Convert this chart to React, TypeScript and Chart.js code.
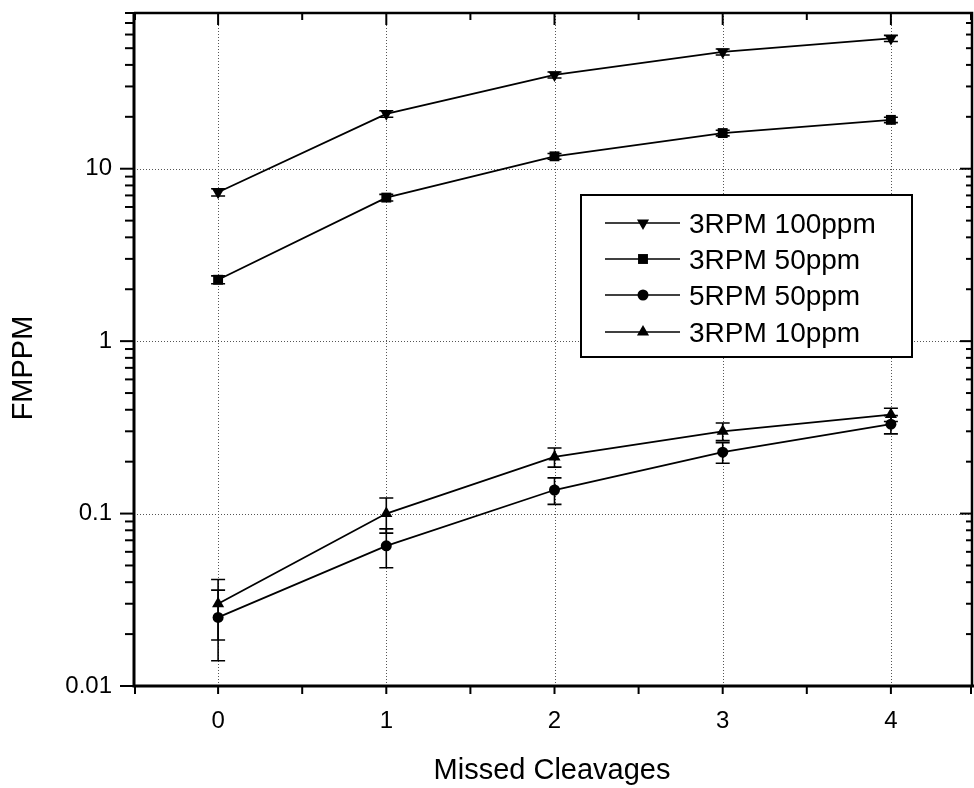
import React, { useEffect, useRef } from 'react';
import { Chart, registerables } from 'chart.js';

Chart.register(...registerables);

// ---- data ----
const CATEGORIES = [0, 1, 2, 3, 4];
const SERIES_NAMES = ['3RPM 100ppm', '3RPM 50ppm', '5RPM 50ppm', '3RPM 10ppm'];
const RPM3_100 = [7.3, 20.8, 35, 47.6, 57];
const RPM3_100_ERR = [0.35, 0.9, 1.4, 1.9, 2.3];
const RPM3_50 = [2.27, 6.8, 11.8, 16.1, 19.2];
const RPM3_50_ERR = [0.12, 0.3, 0.45, 0.6, 0.7];
const RPM5_50 = [0.025, 0.065, 0.137, 0.227, 0.33];
const RPM5_50_ERR = [0.011, 0.0165, 0.024, 0.031, 0.04];
const RPM3_10 = [0.03, 0.1, 0.213, 0.3, 0.375];
const RPM3_10_ERR = [0.0115, 0.023, 0.027, 0.035, 0.033];
const X_TICKS = [0, 1, 2, 3, 4];
const X_MINOR = [-0.5, 0.5, 1.5, 2.5, 3.5, 4.5];
const Y_TICKS = [0.01, 0.1, 1, 10];
const Y_TICK_LABELS = ['0.01', '0.1', '1', '10'];
const X_MIN = -0.5;
const X_MAX = 4.5;
const Y_MIN = 0.01;
const Y_MAX = 80;
const X_TITLE = 'Missed Cleavages';
const Y_TITLE = 'FMPPM';

const SERIES = [
  { name: SERIES_NAMES[0], values: RPM3_100, err: RPM3_100_ERR, style: 'triangle', rot: 180, r: 7 },
  { name: SERIES_NAMES[1], values: RPM3_50, err: RPM3_50_ERR, style: 'rect', rot: 0, r: 7 },
  { name: SERIES_NAMES[2], values: RPM5_50, err: RPM5_50_ERR, style: 'circle', rot: 0, r: 5.5 },
  { name: SERIES_NAMES[3], values: RPM3_10, err: RPM3_10_ERR, style: 'triangle', rot: 0, r: 7 },
];

const FONT = "'Liberation Sans', Arial, sans-serif";
const PLOT_RIGHT = 975;

function drawMarker(ctx: CanvasRenderingContext2D, style: string, rot: number, x: number, y: number, r: number) {
  ctx.beginPath();
  if (style === 'circle') {
    ctx.arc(x, y, r, 0, Math.PI * 2);
  } else if (style === 'rect') {
    const s = r * Math.SQRT1_2;
    ctx.rect(x - s, y - s, 2 * s, 2 * s);
  } else {
    const a0 = (rot * Math.PI) / 180;
    for (let k = 0; k < 3; k++) {
      const a = a0 + (k * 2 * Math.PI) / 3;
      const px = x + Math.sin(a) * r;
      const py = y - Math.cos(a) * r;
      if (k === 0) ctx.moveTo(px, py);
      else ctx.lineTo(px, py);
    }
    ctx.closePath();
  }
  ctx.fill();
}

const framePlugin = {
  id: 'frame',
  afterLayout(chart: any) {
    const x = chart.scales.x;
    x.right = PLOT_RIGHT;
    x.width = PLOT_RIGHT - x.left;
    x.configure();
    chart.chartArea.right = PLOT_RIGHT;
    chart.chartArea.width = PLOT_RIGHT - chart.chartArea.left;
  },
  beforeDatasetsDraw(chart: any) {
    const { ctx, chartArea, scales } = chart;
    const { left, right, top, bottom } = chartArea;
    const x = scales.x;
    const y = scales.y;
    ctx.save();
    ctx.strokeStyle = '#555';
    ctx.lineWidth = 1;
    ctx.setLineDash([1, 2]);
    X_TICKS.forEach((v) => {
      const px = Math.round(x.getPixelForValue(v)) + 0.5;
      ctx.beginPath();
      ctx.moveTo(px, top);
      ctx.lineTo(px, bottom);
      ctx.stroke();
    });
    Y_TICKS.slice(1).forEach((v) => {
      const py = Math.round(y.getPixelForValue(v)) + 0.5;
      ctx.beginPath();
      ctx.moveTo(left, py);
      ctx.lineTo(right, py);
      ctx.stroke();
    });
    ctx.restore();
  },
  afterDatasetsDraw(chart: any) {
    const { ctx, chartArea, scales } = chart;
    const { left, right, top, bottom } = chartArea;
    const x = scales.x;
    const y = scales.y;
    const fr = Math.min(right - 2, 972);
    ctx.save();
    // error bars
    ctx.strokeStyle = '#000';
    ctx.lineWidth = 1.6;
    SERIES.forEach((s) => {
      s.err.forEach((e, i) => {
        const px = x.getPixelForValue(CATEGORIES[i]);
        const y1 = y.getPixelForValue(s.values[i] + e);
        const y2 = y.getPixelForValue(Math.max(s.values[i] - e, 1e-5));
        ctx.beginPath();
        ctx.moveTo(px, y1);
        ctx.lineTo(px, y2);
        ctx.moveTo(px - 7, y1);
        ctx.lineTo(px + 7, y1);
        ctx.moveTo(px - 7, y2);
        ctx.lineTo(px + 7, y2);
        ctx.stroke();
      });
    });

    // frame
    ctx.strokeStyle = '#000';
    ctx.lineWidth = 3;
    ctx.beginPath();
    ctx.moveTo(left, top);
    ctx.lineTo(left, bottom);
    ctx.lineTo(right, bottom);
    ctx.stroke();
    ctx.lineWidth = 2.5;
    ctx.beginPath();
    ctx.moveTo(left, top);
    ctx.lineTo(fr, top);
    ctx.lineTo(fr, bottom);
    ctx.stroke();

    // ticks
    ctx.lineWidth = 2;
    const tick = (x1: number, y1: number, x2: number, y2: number) => {
      ctx.beginPath();
      ctx.moveTo(x1, y1);
      ctx.lineTo(x2, y2);
      ctx.stroke();
    };
    X_TICKS.forEach((v) => {
      const px = x.getPixelForValue(v);
      tick(px, bottom, px, bottom + 8);
      tick(px, top, px, top + 12);
    });
    X_MINOR.forEach((v) => {
      const px = Math.min(Math.max(x.getPixelForValue(v), left + 1), fr - 1);
      tick(px, bottom, px, bottom + 8);
      tick(px, top, px, top + 7);
    });
    Y_TICKS.forEach((v) => {
      const py = y.getPixelForValue(v);
      tick(left - 14, py, left, py);
      tick(fr - 12, py, fr, py);
    });
    Y_TICKS.forEach((d) => {
      for (let m = 2; m <= 9; m++) {
        const v = d * m;
        if (v > Y_MAX + 1e-9) break;
        const py = y.getPixelForValue(v);
        tick(left - 9, py, left, py);
        tick(fr - 6, py, fr, py);
      }
    });

    // legend
    const bx = 581, by = 195, bw = 331, bh = 162;
    ctx.fillStyle = '#fff';
    ctx.fillRect(bx, by, bw, bh);
    ctx.lineWidth = 2;
    ctx.strokeStyle = '#000';
    ctx.strokeRect(bx, by, bw, bh);
    ctx.fillStyle = '#000';
    ctx.font = `28px ${FONT}`;
    ctx.textAlign = 'left';
    ctx.textBaseline = 'alphabetic';
    const rows = [223, 259, 295, 332];
    SERIES.forEach((s, i) => {
      const ry = rows[i];
      ctx.lineWidth = 1.6;
      ctx.beginPath();
      ctx.moveTo(605, ry);
      ctx.lineTo(680, ry);
      ctx.stroke();
      drawMarker(ctx, s.style, s.rot, 643, ry, s.r);
      ctx.fillText(s.name, 689, ry + 10);
    });

    // titles
    ctx.font = `29px ${FONT}`;
    ctx.textAlign = 'center';
    ctx.textBaseline = 'middle';
    ctx.fillText(X_TITLE, 552, 771);
    ctx.save();
    ctx.translate(24, 368);
    ctx.rotate(-Math.PI / 2);
    ctx.fillText(Y_TITLE, 0, 0);
    ctx.restore();
    ctx.restore();
  },
};

export default function App() {
  const canvasRef = useRef<HTMLCanvasElement | null>(null);

  useEffect(() => {
    if (!canvasRef.current) return;
    const datasets = SERIES.map((s) => ({
      label: s.name,
      data: CATEGORIES.map((c, i) => ({ x: c, y: s.values[i] })),
      borderColor: '#000',
      backgroundColor: '#000',
      borderWidth: 1.8,
      pointStyle: s.style,
      pointRotation: s.rot,
      pointRadius: s.r,
      pointBackgroundColor: '#000',
      pointBorderColor: '#000',
      pointBorderWidth: 0,
      tension: 0,
      fill: false,
    }));
    const chart = new Chart(canvasRef.current, {
      type: 'line',
      data: { datasets } as any,
      options: {
        responsive: false,
        animation: false,
        layout: { padding: { top: 13, left: 0, right: 0, bottom: 0 } },
        plugins: {
          legend: { display: false },
          tooltip: { enabled: false },
          title: { display: false },
        },
        scales: {
          x: {
            type: 'linear',
            min: X_MIN,
            max: X_MAX,
            afterBuildTicks: (s: any) => {
              s.ticks = X_TICKS.map((v) => ({ value: v }));
            },
            afterFit: (s: any) => {
              s.height = 102;
              s.paddingLeft = 0;
              s.paddingRight = 0;
              s.paddingTop = 0;
              s.paddingBottom = 0;
            },
            grid: { display: false, drawTicks: false },
            border: { display: false },
            ticks: {
              color: '#000',
              font: { family: FONT, size: 24 },
              padding: 21,
              autoSkip: false,
              maxRotation: 0,
              callback: (v: any) => String(v),
            },
          },
          y: {
            type: 'logarithmic',
            min: Y_MIN,
            max: Y_MAX,
            afterBuildTicks: (s: any) => {
              s.ticks = Y_TICKS.map((v) => ({ value: v }));
            },
            afterFit: (s: any) => {
              s.width = 134;
              s.paddingLeft = 0;
              s.paddingRight = 0;
              s.paddingTop = 0;
              s.paddingBottom = 0;
            },
            grid: { display: false, drawTicks: false },
            border: { display: false },
            ticks: {
              color: '#000',
              font: { family: FONT, size: 24 },
              padding: 22,
              autoSkip: false,
              callback: (v: any) => {
                const idx = Y_TICKS.findIndex((t) => Math.abs(t - v) / t < 1e-6);
                return idx >= 0 ? Y_TICK_LABELS[idx] : '';
              },
            },
          },
        },
      } as any,
      plugins: [framePlugin],
    });
    return () => chart.destroy();
  }, []);

  return (
    <div style={{ position: 'absolute', left: 0, top: 0, width: 974, height: 788, background: '#fff' }}>
      <canvas ref={canvasRef} width={974} height={788} style={{ display: 'block' }} />
    </div>
  );
}
